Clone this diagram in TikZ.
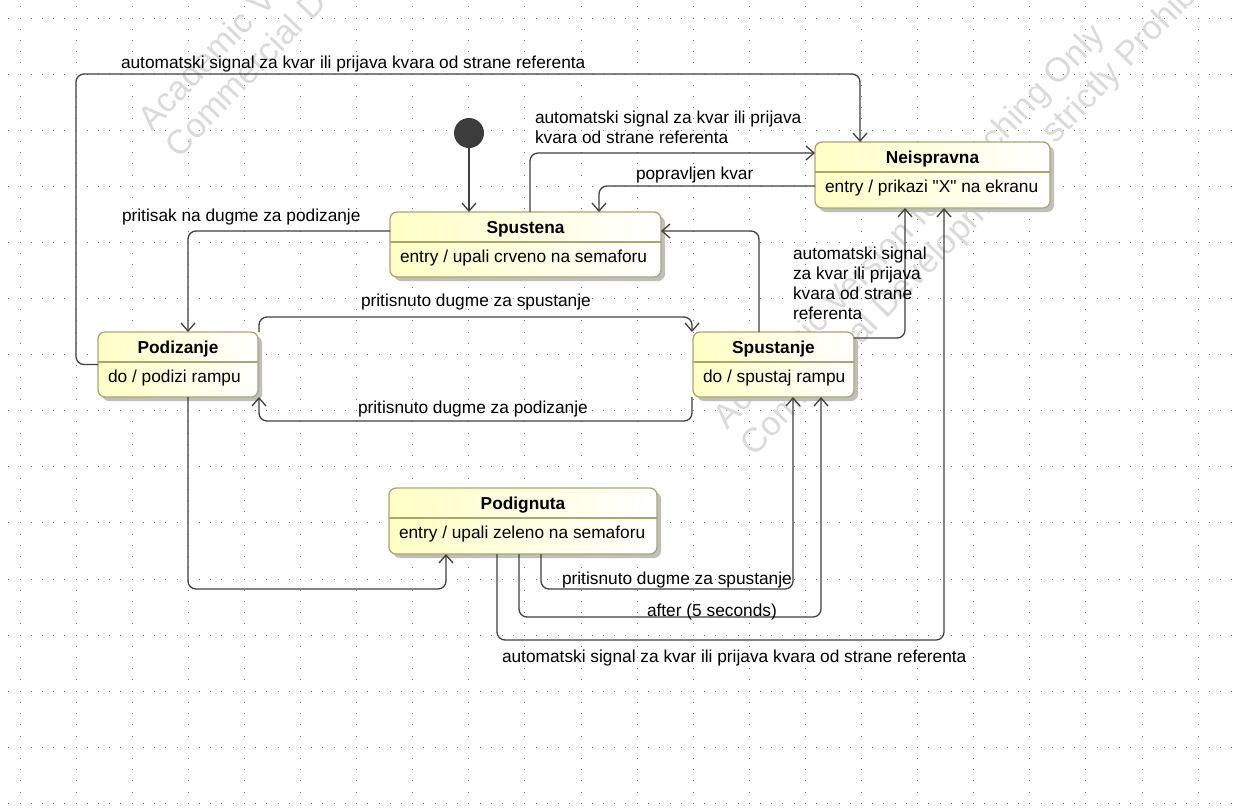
\documentclass[tikz,border=0pt]{standalone}
\usepackage{fontspec}
\setmainfont{Liberation Sans}
\newfontfamily\plainquotes{Liberation Sans}
\usetikzlibrary{arrows.meta,calc,shadows}

\definecolor{edgeclr}{RGB}{64,64,64}
\definecolor{boxline}{RGB}{168,168,110}
\definecolor{boxfill}{RGB}{255,255,196}
\definecolor{shadowclr}{RGB}{190,190,190}
\definecolor{dotclr}{RGB}{125,125,125}
\definecolor{wmark}{RGB}{218,218,218}
\definecolor{initclr}{RGB}{60,60,60}

\begin{document}
\begin{tikzpicture}[x=1pt,y=-1pt,
  every node/.style={inner sep=0pt, outer sep=0pt},
  txt/.style={font=\fontsize{17.3}{20}\selectfont, text=black},
  ttl/.style={font=\fontsize{17.3}{20}\selectfont\bfseries, text=black, anchor=base},
  bdy/.style={font=\fontsize{17.3}{20}\selectfont, text=black, anchor=base west},
  wm/.style={font=\fontsize{34}{38}\selectfont, text=wmark, rotate=46, anchor=base west},
  statebox/.style={draw=boxline, line width=1.3pt, rounded corners=7pt,
    left color=boxfill, right color=white, anchor=north west,
    drop shadow={shadow xshift=4pt, shadow yshift=-4pt, fill=shadowclr, opacity=1}},
  divider/.style={draw=boxline, line width=1.3pt},
  dotline/.style={draw=dotclr, line width=1pt, dash pattern=on 1pt off 10.22pt},
  conn/.style={draw=edgeclr, line width=1.3pt, rounded corners=8pt,
    -{Straight Barb[length=8pt,width=14pt]}}
]
\useasboundingbox (0,0) rectangle (1233,807);
\fill[white] (0,0) rectangle (1233,807);
\begin{scope}
\clip (0,0) rectangle (1233,807);

% dotted background grid
\foreach \r in {0,...,14}
  \draw[dotline] ({8.28},{18+56.1*\r}) -- ({1233},{18+56.1*\r});
\foreach \c in {0,...,21}
  \draw[dotline] ({20+56.1*\c},{6.28}) -- ({20+56.1*\c},{807});

% tool watermark
\node[wm] (wm-a1) at (152,132) {Academic Version for Teaching Only};
\node[wm] (wm-a2) at (179,159) {Commercial Development is strictly Prohibited};
\node[wm] (wm-b1) at (727,430) {Academic Version for Teaching Only};
\node[wm] (wm-b2) at (754,457) {Commercial Development is strictly Prohibited};

% states
\node[circle, fill=initclr, minimum size=30pt] (init) at (469,133) {};

\node[statebox, minimum width=271pt, minimum height=65pt] (spustena) at (390,212) {};
\draw[divider] ($(spustena.north west)+(0,30)$) -- ($(spustena.north east)+(0,30)$);
\node[ttl] (spustena-t) at ($(spustena.north)+(0,21.5)$) {Spustena};
\node[bdy] (spustena-b) at ($(spustena.north west)+(10,50.5)$) {entry / upali crveno na semaforu};

\node[statebox, minimum width=235pt, minimum height=66pt] (neispravna) at (815,142) {};
\draw[divider] ($(neispravna.north west)+(0,30)$) -- ($(neispravna.north east)+(0,30)$);
\node[ttl] (neispravna-t) at ($(neispravna.north)+(0,21)$) {Neispravna};
\node[bdy] (neispravna-b) at ($(neispravna.north west)+(10,50.5)$) {\plainquotes entry / prikazi "X" na ekranu};

\node[statebox, minimum width=160pt, minimum height=65pt] (podizanje) at (98,332) {};
\draw[divider] ($(podizanje.north west)+(0,30)$) -- ($(podizanje.north east)+(0,30)$);
\node[ttl] (podizanje-t) at ($(podizanje.north)+(0,21.5)$) {Podizanje};
\node[bdy] (podizanje-b) at ($(podizanje.north west)+(10,50.5)$) {do / podizi rampu};

\node[statebox, minimum width=161pt, minimum height=65pt] (spustanje) at (693,332) {};
\draw[divider] ($(spustanje.north west)+(0,30)$) -- ($(spustanje.north east)+(0,30)$);
\node[ttl] (spustanje-t) at ($(spustanje.north)+(0,21.5)$) {Spustanje};
\node[bdy] (spustanje-b) at ($(spustanje.north west)+(10,50.5)$) {do / spustaj rampu};

\node[statebox, minimum width=268pt, minimum height=66pt] (podignuta) at (389,488) {};
\draw[divider] ($(podignuta.north west)+(0,30)$) -- ($(podignuta.north east)+(0,30)$);
\node[ttl] (podignuta-t) at ($(podignuta.north)+(0,21.5)$) {Podignuta};
\node[bdy] (podignuta-b) at ($(podignuta.north west)+(10,50.5)$) {entry / upali zeleno na semaforu};

% transitions
\draw[conn] (init.south) -- (init |- spustena.north);
\draw[conn] (podizanje.west) -| (76,74) -| ($(neispravna.north west)+(45,0)$);
\draw[conn] ($(spustena.north west)+(140,0)$) |- ($(neispravna.north west)+(0,11)$);
\draw[conn] ($(neispravna.north west)+(0,44)$) -| ($(spustena.north west)+(209,0)$);
\draw[conn] ($(spustena.north west)+(0,19)$) -| ($(podizanje.north west)+(90,0)$);
\draw[conn] ($(podizanje.north east)+(1,0)$) -- ++(0,-15) -| ($(spustanje.north west)+(-1,0)$);
\draw[conn] ($(spustanje.south west)+(-1,0)$) -- ++(0,24) -| ($(podizanje.south east)+(1,0)$);
\draw[conn] ($(spustanje.north west)+(66,0)$) |- ($(spustena.north east)+(0,19)$);
\draw[conn] ($(spustanje.north east)+(0,6)$) -| ($(neispravna.south west)+(90,0)$);
\draw[conn] ($(podignuta.south west)+(108,0)$) -- ++(0,86) -| ($(neispravna.south west)+(129,0)$);
\draw[conn] ($(podignuta.south west)+(130,0)$) -- ++(0,63) -| ($(spustanje.south west)+(128,0)$);
\draw[conn] ($(podignuta.south west)+(152,0)$) -- ++(0,35) -| ($(spustanje.south west)+(100,0)$);
\draw[conn] ($(podizanje.south west)+(90,0)$) -- ++(0,192) -| ($(podignuta.south west)+(57,0)$);

% transition labels (multi-line ones are placed by their last baseline)
\node[txt, anchor=base west] (lbl-top) at (121,68) {automatski signal za kvar ili prijava kvara od strane referenta};
\node[txt, anchor=base west, align=left] (lbl-sn) at (535,143) {automatski signal za kvar ili prijava\\kvara od strane referenta};
\node[txt, anchor=base west] (lbl-fix) at (636,179) {popravljen kvar};
\node[txt, anchor=base west] (lbl-up1) at (122,221) {pritisak na dugme za podizanje};
\node[txt, anchor=base west] (lbl-down1) at (361,306) {pritisnuto dugme za spustanje};
\node[txt, anchor=base west] (lbl-up2) at (358,413) {pritisnuto dugme za podizanje};
\node[txt, anchor=base west, align=left] (lbl-sd) at (793,319.5) {automatski signal\\za kvar ili prijava\\kvara od strane\\referenta};
\node[txt, anchor=base west] (lbl-down2) at (562,584) {pritisnuto dugme za spustanje};
\node[txt, anchor=base west] (lbl-after) at (647,616) {after (5 seconds)};
\node[txt, anchor=base west] (lbl-bottom) at (502,662) {automatski signal za kvar ili prijava kvara od strane referenta};
\end{scope}
\end{tikzpicture}
\end{document}
